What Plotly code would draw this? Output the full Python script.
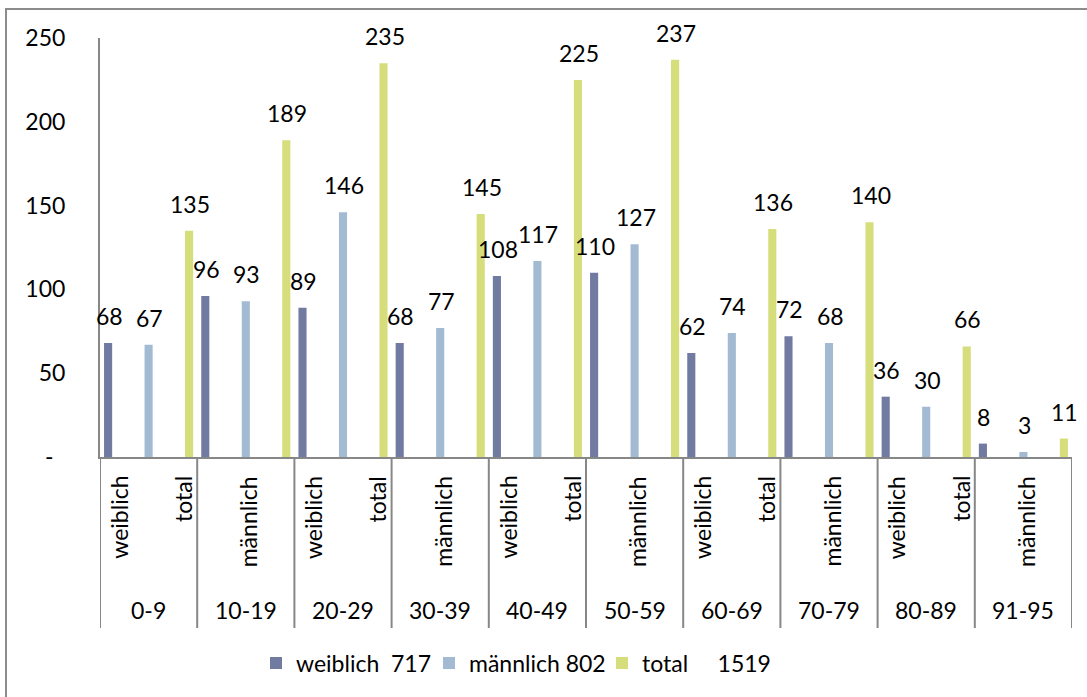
import plotly.graph_objects as go

groups = ["0-9", "10-19", "20-29", "30-39", "40-49", "50-59", "60-69", "70-79", "80-89", "91-95"]
subs = ["weiblich", "männlich", "total"]
weiblich = [68, 96, 89, 68, 108, 110, 62, 72, 36, 8]
maennlich = [67, 93, 146, 77, 117, 127, 74, 68, 30, 3]
total = [135, 189, 235, 145, 225, 237, 136, 140, 66, 11]
legend_names = ["weiblich\u00a0\u00a0717", "männlich\u00a0802", "total\u00a0\u00a0\u00a0\u00a0\u00a01519"]
y_ticks = [0, 50, 100, 150, 200, 250]
y_ticktext = ["-\u00a0\u00a0", "50", "100", "150", "200", "250"]

colors = ["#717AA1", "#A2BAD2", "#D6DD7B"]
FONT = "Lato"
FS = 23

# 30 categories: group x sub
cats = [f"{g}|{s}" for g in groups for s in subs]
series = [weiblich, maennlich, total]

W, H = 1087, 697
L, R, T, B = 100, 15, 38, 240
plot_w = W - L - R
plot_h = H - T - B
cat_px = plot_w / len(cats)
bargap = 0.25
slot_px = cat_px * (1 - bargap) / 3

def py(px_y):
    return (H - B - px_y) / plot_h

fig = go.Figure()
for si, (name, vals, col) in enumerate(zip(legend_names, series, colors)):
    yv = []
    for g in range(len(groups)):
        for s in range(3):
            yv.append(vals[g] if s == si else None)
    fig.add_trace(go.Bar(x=cats, y=yv, name=name, marker=dict(color=col, line=dict(width=0)),
                         hoverinfo="skip"))

annotations = []
# data labels
for si, vals in enumerate(series):
    for g, v in enumerate(vals):
        annotations.append(dict(x=f"{groups[g]}|{subs[si]}", y=v, xref="x", yref="y",
                                text=str(v), showarrow=False, yanchor="bottom",
                                xshift=(si - 1) * slot_px + 1, yshift=11,
                                font=dict(family=FONT, size=FS, color="black")))
# sub-category labels (every other one shown)
for i, c in enumerate(cats):
    if i % 2 == 0:
        annotations.append(dict(x=c, y=py(474), xref="x", yref="paper",
                                text=subs[i % 3], showarrow=False, textangle=-90,
                                yanchor="top", xanchor="center", xshift=2,
                                font=dict(family=FONT, size=FS, color="black")))
# group labels
for g, gname in enumerate(groups):
    annotations.append(dict(x=f"{gname}|{subs[1]}", y=py(610), xref="x", yref="paper",
                            text=gname, showarrow=False, yanchor="middle",
                            font=dict(family=FONT, size=FS, color="black")))

shapes = []
for g in range(len(groups) + 1):
    shapes.append(dict(type="line", xref="x", yref="paper", x0=g * 3 - 0.5, x1=g * 3 - 0.5,
                       y0=0, y1=py(628), line=dict(color="#878787", width=2)))
# outer chart border
shapes.append(dict(type="rect", xref="paper", yref="paper",
                   x0=(6 - L) / plot_w, x1=(W + 20 - L) / plot_w,
                   y0=py(H + 20), y1=py(9), line=dict(color="#8C8C8C", width=2)))

fig.update_layout(
    width=W, height=H,
    margin=dict(l=L, r=R, t=T, b=B, pad=0),
    paper_bgcolor="white", plot_bgcolor="white",
    barmode="group", bargap=bargap, bargroupgap=0,
    font=dict(family=FONT, size=FS, color="black"),
    xaxis=dict(type="category", showticklabels=False, showgrid=False, zeroline=False,
               showline=True, linecolor="#878787", linewidth=2, ticks="",
               range=[-0.5, len(cats) - 0.5], fixedrange=True),
    yaxis=dict(range=[0, 250], tickvals=y_ticks, ticktext=y_ticktext, showgrid=False,
               zeroline=False, showline=True, linecolor="#878787", linewidth=2, ticks="",
               ticklabelstandoff=28, tickfont=dict(family=FONT, size=FS, color="black")),
    legend=dict(orientation="h", x=(256 - L) / plot_w, y=py(663), xanchor="left",
                yanchor="middle", font=dict(family=FONT, size=FS, color="black"),
                entrywidth=128, entrywidthmode="pixels", bgcolor="rgba(0,0,0,0)"),
    annotations=annotations,
    shapes=shapes,
    showlegend=True,
)

fig.write_html("out.html")
